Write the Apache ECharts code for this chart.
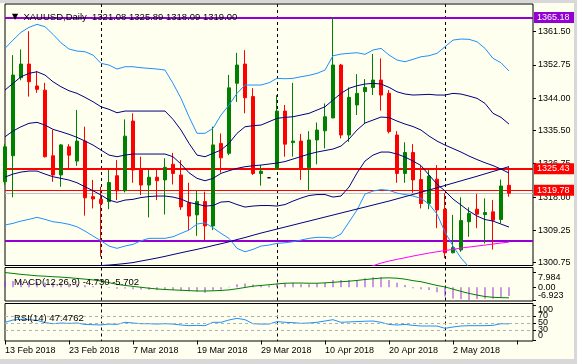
<!DOCTYPE html>
<html><head><meta charset="utf-8">
<script src="https://cdn.jsdelivr.net/npm/echarts@6/dist/echarts.min.js"></script>
<style>html,body{margin:0;padding:0;background:#FFFFF0}#c{width:577px;height:364px}</style>
</head><body><div id="c"></div>
<script>
const dates = ['13 Feb 2018','14 Feb 2018','15 Feb 2018','16 Feb 2018','19 Feb 2018','20 Feb 2018','21 Feb 2018','22 Feb 2018','23 Feb 2018','26 Feb 2018','27 Feb 2018','28 Feb 2018',
'1 Mar 2018','2 Mar 2018','5 Mar 2018','6 Mar 2018','7 Mar 2018','8 Mar 2018','9 Mar 2018','12 Mar 2018','13 Mar 2018','14 Mar 2018','15 Mar 2018','16 Mar 2018','19 Mar 2018','20 Mar 2018','21 Mar 2018','22 Mar 2018','23 Mar 2018','26 Mar 2018','27 Mar 2018','28 Mar 2018','29 Mar 2018','30 Mar 2018',
'2 Apr 2018','3 Apr 2018','4 Apr 2018','5 Apr 2018','6 Apr 2018','9 Apr 2018','10 Apr 2018','11 Apr 2018','12 Apr 2018','13 Apr 2018','16 Apr 2018','17 Apr 2018','18 Apr 2018','19 Apr 2018','20 Apr 2018','23 Apr 2018','24 Apr 2018','25 Apr 2018','26 Apr 2018','27 Apr 2018','30 Apr 2018',
'1 May 2018','2 May 2018','3 May 2018','4 May 2018','7 May 2018','8 May 2018','9 May 2018','10 May 2018','11 May 2018'];

const opens  = [1322.0,1328.85,1349.35,1352.95,1347.2,1346.1,1328.85,1323.8,1331.2,1327.45,1332.7,1318.1,1317.4,1316.8,1323.6,1319.65,1337.97,1325.5,1321.15,1323.2,1322.5,1326.6,1323.8,1316.5,1313.3,1316.8,1310.4,1332.1,1329.5,1347.9,1352.95,1344.4,1324.2,1323.06,1325.35,1340.6,1332.3,1332.7,1325.7,1333.0,1335.4,1338.8,1352.7,1334.3,1342.2,1345.7,1346.8,1348.75,1345.25,1334.3,1324.2,1329.7,1322.6,1316.3,1322.7,1314.8,1303.35,1304.1,1311.5,1314.8,1313.4,1314.1,1312.1,1321.08];
const highs  = [1332.0,1355.3,1356.8,1361.6,1351.1,1348.0,1335.6,1331.9,1331.9,1340.9,1336.5,1322.5,1320.7,1325.1,1327.7,1338.4,1340.0,1328.6,1325.1,1325.5,1328.2,1329.6,1327.7,1321.75,1319.6,1319.4,1336.5,1334.7,1350.1,1355.9,1356.6,1346.6,1326.4,1323.06,1344.8,1342.2,1348.0,1334.6,1335.3,1337.6,1342.6,1365.18,1353.0,1346.8,1350.3,1349.0,1355.6,1354.45,1346.1,1335.3,1332.4,1331.9,1326.2,1325.1,1326.4,1319.0,1313.3,1317.9,1315.3,1318.8,1317.65,1317.2,1322.6,1325.89];
const lows   = [1321.2,1317.9,1348.7,1344.4,1345.4,1328.4,1322.0,1320.7,1325.5,1326.2,1313.1,1315.0,1302.3,1314.8,1317.2,1319.2,1321.75,1318.5,1312.65,1317.2,1313.4,1321.3,1314.6,1309.3,1307.8,1306.7,1309.3,1324.4,1329.0,1343.0,1340.0,1323.8,1321.0,1323.06,1325.3,1328.6,1328.6,1322.5,1319.65,1326.6,1330.8,1338.7,1333.4,1332.5,1339.55,1337.2,1344.8,1340.7,1334.7,1321.75,1321.75,1319.1,1315.0,1314.8,1309.8,1301.9,1303.2,1303.6,1307.55,1309.8,1305.8,1304.2,1311.1,1318.09];
const closes = [1331.2,1350.06,1352.95,1348.3,1346.3,1328.6,1323.8,1331.7,1329.0,1332.7,1317.8,1317.5,1316.3,1321.8,1319.65,1334.0,1325.1,1321.15,1323.2,1322.3,1325.8,1324.2,1315.4,1313.0,1316.8,1310.4,1331.7,1328.3,1346.7,1352.7,1344.1,1324.2,1324.8,1323.06,1340.6,1331.9,1332.7,1325.5,1333.0,1335.6,1339.1,1352.7,1334.3,1344.2,1345.25,1346.8,1348.75,1344.8,1335.2,1324.2,1329.7,1322.5,1316.3,1323.5,1314.6,1303.35,1304.7,1311.8,1313.7,1313.5,1313.9,1311.9,1320.9,1319.00];

const bbUpper2 = [1357.08,1359.26,1361.29,1362.60,1363.39,1362.76,1360.76,1358.55,1356.90,1356.37,1356.19,1355.32,1353.14,1352.69,1351.64,1352.25,1352.25,1351.98,1351.83,1351.64,1351.38,1347.88,1343.94,1339.10,1334.74,1334.74,1336.05,1339.55,1342.18,1345.25,1347.44,1347.44,1347.44,1348.04,1349.20,1349.09,1349.20,1349.62,1349.99,1350.51,1351.38,1355.14,1355.58,1355.77,1355.93,1355.51,1356.64,1357.08,1355.32,1354.01,1353.56,1354.19,1354.87,1355.14,1355.77,1357.50,1359.26,1359.53,1359.45,1358.82,1357.08,1354.45,1353.30,1351.12];
const bbUpper1 = [1346.12,1347.88,1349.62,1350.51,1350.93,1350.06,1348.30,1346.99,1345.94,1345.25,1344.20,1343.05,1341.73,1341.05,1340.15,1340.60,1340.60,1340.60,1340.60,1340.60,1340.60,1338.42,1335.61,1332.11,1329.03,1328.59,1329.48,1330.35,1332.11,1334.74,1336.47,1336.74,1336.92,1337.79,1338.68,1338.94,1339.10,1339.55,1340.00,1340.86,1341.73,1343.49,1345.25,1346.57,1347.25,1347.70,1347.88,1347.70,1346.83,1345.67,1345.07,1344.81,1344.89,1344.99,1344.81,1344.81,1345.25,1345.07,1344.54,1343.94,1342.62,1340.00,1338.94,1337.18];
const bbMid    = [1333.84,1335.34,1336.47,1337.37,1337.63,1336.92,1335.79,1335.16,1334.48,1333.69,1332.71,1331.66,1330.35,1329.03,1328.59,1329.03,1329.30,1329.30,1329.30,1329.30,1329.30,1328.59,1326.67,1324.38,1322.91,1322.28,1322.91,1324.22,1324.91,1325.54,1325.96,1326.22,1326.40,1326.67,1326.93,1327.33,1327.98,1328.64,1329.30,1329.82,1330.22,1330.61,1331.40,1333.24,1335.61,1337.45,1338.23,1339.02,1338.89,1337.97,1337.18,1336.53,1335.61,1334.03,1332.71,1331.66,1330.74,1329.82,1328.77,1327.85,1327.01,1326.27,1325.35,1324.30];
const bbLower1 = [1323.25,1324.04,1324.56,1324.83,1324.83,1324.04,1323.33,1322.91,1322.46,1321.75,1320.70,1319.65,1318.52,1317.20,1316.60,1317.20,1317.39,1317.86,1318.12,1318.26,1318.26,1317.99,1317.47,1316.55,1316.15,1315.63,1315.76,1316.68,1316.81,1316.02,1315.36,1315.63,1315.76,1315.76,1315.63,1316.02,1316.94,1317.73,1318.39,1318.65,1318.65,1317.99,1318.26,1320.62,1324.30,1327.46,1329.03,1329.82,1329.82,1329.30,1328.51,1327.46,1326.27,1323.78,1321.41,1319.57,1317.47,1315.89,1314.31,1313.00,1312.08,1311.68,1310.89,1310.11];
const bbLower2 = [1310.63,1311.08,1311.68,1312.13,1312.66,1312.13,1311.50,1311.24,1310.82,1310.18,1309.05,1307.74,1306.50,1305.11,1304.51,1305.11,1305.56,1306.50,1307.14,1307.14,1307.14,1307.56,1308.45,1309.32,1310.89,1311.24,1309.92,1308.45,1307.14,1304.51,1303.61,1304.24,1305.11,1305.37,1305.82,1305.98,1306.24,1306.69,1307.14,1307.40,1307.40,1307.20,1308.27,1311.42,1314.58,1318.78,1319.57,1319.96,1319.75,1319.04,1318.65,1318.26,1317.65,1316.15,1313.52,1308.79,1305.11,1301.96,1299.59,1298.02,1297.23,1296.96,1297.23,1297.75];
const maLong = [null,null,null,null,null,null,null,null,null,null,null,1299.33,1299.99,1300.12,1300.30,1300.51,1300.77,1301.17,1301.56,1301.96,1302.40,1302.88,1303.35,1303.80,1304.24,1304.72,1305.24,1305.72,1306.22,1306.82,1307.35,1307.95,1308.53,1309.05,1309.58,1310.11,1310.63,1311.16,1311.68,1312.21,1312.74,1313.26,1313.79,1314.31,1314.84,1315.36,1315.89,1316.42,1316.94,1317.52,1318.10,1318.68,1319.26,1319.83,1320.44,1321.04,1321.65,1322.25,1322.86,1323.46,1324.09,1324.72,1325.35,1326.01];
const maSlow = [null,null,null,null,null,null,null,null,null,null,null,null,null,null,null,null,null,null,null,null,null,null,null,null,null,null,null,null,null,null,null,null,null,null,null,null,null,null,null,null,null,null,null,null,null,1299.33,1299.93,1300.64,1301.17,1301.62,1302.04,1302.48,1302.88,1303.27,1303.61,1303.93,1304.24,1304.59,1304.85,1305.11,1305.37,1305.64,1305.90,1306.16];

const macdMain = [3.2,3.4,3.5,3.3,3.0,2.6,2.3,2.1,1.9,1.6,1.1,0.6,0.2,-0.3,-0.8,-0.7,-1.0,-1.2,-1.3,-1.4,-1.3,-1.4,-1.7,-2.1,-2.3,-3.0,-1.7,-1.2,0.3,1.7,2.1,1.5,1.2,1.0,2.0,2.3,2.4,1.6,1.6,2.2,2.5,4.0,4.0,4.0,4.0,4.9,5.4,5.4,4.0,2.5,1.3,-0.5,-1.1,-1.4,-2.7,-5.0,-6.0,-6.5,-6.923,-6.3,-6.2,-6.2,-5.5,-4.73];
const macdSignal = [7.98,7.5,7.0,6.6,6.2,6.0,5.7,5.5,5.2,4.8,4.4,4.0,3.4,2.5,1.6,1.0,0.5,0.0,-0.5,-0.9,-1.2,-1.4,-1.6,-1.8,-2.0,-2.0,-1.9,-1.7,-1.4,-0.8,-0.1,0.6,1.0,1.4,1.8,2.2,2.3,2.3,2.2,2.2,2.4,2.7,3.0,3.3,3.7,4.2,4.6,5.0,5.1,4.9,4.4,3.6,3.0,2.0,1.0,0.2,-1.0,-2.2,-3.3,-4.2,-5.0,-5.4,-5.6,-5.702];
const rsi = [52,58.6,60.5,59.5,57.6,51,48,50,49,50,46,45.2,44.3,47,46,52,50,48,48,47,48,47,44.3,42.4,43.3,42.4,52,52,58.6,63.3,59.5,48,47,47,54,52,51,49,50,52,55.7,59.5,52,53,54,55,55.7,52,46,44.3,46,43.3,41.4,41.4,41.4,34.8,38.6,41.4,42.4,42.4,42.4,43.3,48,47.48];

const priceTicks = [1300.75,1309.25,1318.00,1326.75,1335.50,1344.00,1352.75,1361.50];
const macdTicks = [7.984,0,-6.923];
const rsiTicks = [100,70,50,30,0];
const rsiLevels = [70,50,30];
const resistanceHigh = 1365.18, supportLow = 1306.50, level1 = 1325.43, level2 = 1319.78, bidPrice = 1319.00;
const monthStarts = [12,34,55];
const dojiIndex = 33;

const cats = dates.concat([' ','  ','   ']);
const F = 'Liberation Sans, Arial, sans-serif';
const BG = '#FFFFF0', NAVY = '#000080', DODGER = '#1E90FF', GREEN = '#008000', RED = '#FF0000', VIOLET = '#9400D3';
const MACD_MIN = -7.41, MACD_MAX = 10.70, RSI_MIN = -1.43, RSI_MAX = 105.71;

const candleData = dates.map((d,i) => {
  const v = [opens[i], closes[i], lows[i], highs[i]];
  return i === dojiIndex ? {value: v, itemStyle: {color:'#000', color0:'#000', borderColor:'#000', borderColor0:'#000'}} : v;
});

function xAxisFor(gi, show) {
  return {
    type:'category', gridIndex: gi, data: cats, boundaryGap:false,
    axisLine:{show:false},
    axisTick:{show:show, interval:7, length:4, lineStyle:{color:'#000'}},
    axisLabel:{show:show, interval:7, align:'left', color:'#000', fontSize:9, fontFamily:F, margin:5},
    splitLine:{show:true, interval:(i)=>monthStarts.indexOf(i) >= 0, lineStyle:{color:'#000', type:[3,3], width:1}}
  };
}
function lineSeries(data, color, width) {
  return {type:'line', data:data, xAxisIndex:0, yAxisIndex:0, symbol:'none', silent:true,
    lineStyle:{color:color, width:width||1}, connectNulls:false, animation:false, z:3};
}
function hLine(v, color, width, showLabel) {
  return {yAxis: v, lineStyle:{color:color, width:width, type:'solid'},
    label: showLabel ? {show:true, position:'end', distance:1, formatter: () => v.toFixed(2),
      backgroundColor: color, color:'#fff', fontSize:9, fontFamily:F, lineHeight:9, padding:[1,12,1,3]} : {show:false}};
}
const lblBase = {color:'#000', fontSize:9, fontFamily:F, margin:5, hideOverlap:false, showMinLabel:true, showMaxLabel:true};
// extra label-only axis (same scale as the panel axis) so crowded labels are all kept
function labelAxis(gi, min, max, values, fmt, vAlign) {
  return {type:'value', gridIndex:gi, position:'right', min:min, max:max,
    axisLine:{show:false}, splitLine:{show:false}, axisTick:{show:false},
    axisLabel:Object.assign({customValues:values, formatter:fmt, verticalAlign:vAlign}, lblBase)};
}

const chart = echarts.init(document.getElementById('c'), null, {renderer:'canvas'});
chart.setOption({
  animation:false,
  backgroundColor: BG,
  textStyle:{fontFamily:F},
  title:[
    {text:'{t|▼}  XAUUSD,Daily  1321.08 1325.89 1318.09 1319.00', left:7, top:7,
      textStyle:{fontSize:9.5, fontWeight:'normal', color:'#000', fontFamily:F, rich:{t:{fontSize:8, fontFamily:'DejaVu Sans', color:'#000'}}}},
    {text:'MACD(12,26,9) -4.730 -5.702', left:9, top:272, textStyle:{fontSize:9.5, fontWeight:'normal', color:'#000', fontFamily:F}},
    {text:'RSI(14) 47.4762', left:9, top:308.5, textStyle:{fontSize:9.5, fontWeight:'normal', color:'#000', fontFamily:F}}
  ],
  graphic:[
    {type:'rect', silent:true, z:100, shape:{x:0,y:0,width:577,height:3}, style:{fill:'#D8D8D8'}},
    {type:'rect', silent:true, z:100, shape:{x:574,y:0,width:3,height:364}, style:{fill:'#D8D8D8'}},
    {type:'rect', silent:true, z:100, shape:{x:0,y:359,width:577,height:5}, style:{fill:'#D8D8D8'}}
  ],
  grid:[
    {left:5, right:44, top:4, height:261.5, show:true, borderColor:'#000', borderWidth:1, backgroundColor:BG},
    {left:5, right:44, top:267.5, height:33.5, show:true, borderColor:'#000', borderWidth:1, backgroundColor:BG},
    {left:5, right:44, top:303.5, height:37.5, show:true, borderColor:'#000', borderWidth:1, backgroundColor:BG}
  ],
  xAxis:[xAxisFor(0,false), xAxisFor(1,false), xAxisFor(2,true)],
  yAxis:[
    {type:'value', gridIndex:0, position:'right', min:1300, max:1368.74,
      axisLine:{show:false}, splitLine:{show:false},
      axisTick:{show:true, length:3, customValues:priceTicks, lineStyle:{color:'#000'}},
      axisLabel:Object.assign({customValues:priceTicks, formatter:(v)=>v.toFixed(2)}, lblBase)},
    {type:'value', gridIndex:1, position:'right', min:MACD_MIN, max:MACD_MAX,
      axisLine:{show:false}, splitLine:{show:false},
      axisTick:{show:true, length:3, customValues:macdTicks, lineStyle:{color:'#000'}},
      axisLabel:Object.assign({customValues:[macdTicks[1]], formatter:()=>'0.00'}, lblBase)},
    {type:'value', gridIndex:2, position:'right', min:RSI_MIN, max:RSI_MAX,
      axisLine:{show:false}, splitLine:{show:false},
      axisTick:{show:true, length:3, customValues:rsiTicks, lineStyle:{color:'#000'}},
      axisLabel:Object.assign({customValues:[rsiTicks[1], rsiTicks[3]], formatter:(v)=>String(v)}, lblBase)},
    labelAxis(1, MACD_MIN, MACD_MAX, [macdTicks[0]], (v)=>v.toFixed(3), 'top'),
    labelAxis(1, MACD_MIN, MACD_MAX, [macdTicks[2]], (v)=>v.toFixed(3), 'bottom'),
    labelAxis(2, RSI_MIN, RSI_MAX, [rsiTicks[0]], (v)=>String(v), 'top'),
    labelAxis(2, RSI_MIN, RSI_MAX, [rsiTicks[4]], (v)=>String(v), 'bottom'),
    labelAxis(2, RSI_MIN, RSI_MAX, [rsiTicks[2]], (v)=>String(v), 'middle')
  ],
  series:[
    {type:'candlestick', xAxisIndex:0, yAxisIndex:0, data:candleData, barWidth:4, silent:true, z:2,
      itemStyle:{color:GREEN, color0:RED, borderColor:GREEN, borderColor0:RED, borderWidth:1},
      markLine:{symbol:'none', silent:true, animation:false, z:1,
        data:[hLine(bidPrice,'#C0C0C0',1,false), hLine(supportLow,VIOLET,2,false), hLine(level2,RED,1,true), hLine(level1,RED,2,true), hLine(resistanceHigh,VIOLET,2,true)]}},
    lineSeries(bbUpper2, DODGER), lineSeries(bbLower2, DODGER),
    lineSeries(bbUpper1, NAVY), lineSeries(bbMid, NAVY), lineSeries(bbLower1, NAVY),
    lineSeries(maLong, NAVY), lineSeries(maSlow, '#FF00FF'),
    {type:'bar', xAxisIndex:1, yAxisIndex:1, data:macdMain, barWidth:1, silent:true, itemStyle:{color:'#9932CC'}},
    {type:'line', xAxisIndex:1, yAxisIndex:1, data:macdSignal, symbol:'none', silent:true, lineStyle:{color:GREEN, width:1}},
    {type:'line', xAxisIndex:2, yAxisIndex:2, data:rsi, symbol:'none', silent:true, lineStyle:{color:DODGER, width:1},
      markLine:{symbol:'none', silent:true, animation:false, label:{show:false},
        data: rsiLevels.map(l => ({yAxis:l, lineStyle:{color:'#B0B0B0', type:[3,3], width:1}}))}}
  ]
});
</script></body></html>
